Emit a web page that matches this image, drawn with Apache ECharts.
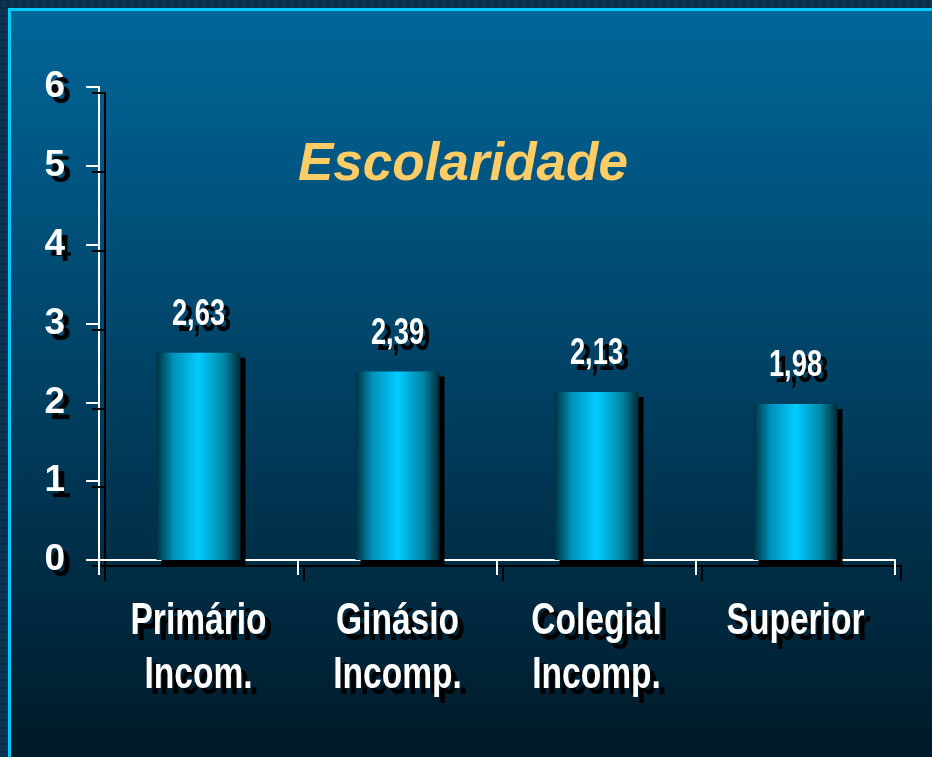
<!DOCTYPE html>
<html>
<head>
<meta charset="utf-8">
<script src="https://cdn.jsdelivr.net/npm/echarts@6/dist/echarts.min.js"></script>
<style>
html, body { margin: 0; padding: 0; background: #0c3452; }
#chart { width: 932px; height: 757px; }
</style>
</head>
<body>
<div id="chart"></div>
<script>
// dados
const categorias = ['Primário\nIncom.', 'Ginásio\nIncomp.', 'Colegial\nIncomp.', 'Superior'];
const valores = [2.63, 2.39, 2.13, 1.98];
const titulo = 'Escolaridade';

let chart = echarts.init(document.getElementById('chart'));

const fonte = '"Liberation Sans", Arial, sans-serif';
const linhaSombra = {
    color: '#fff',
    width: 2,
    shadowColor: '#000',
    shadowOffsetX: 6,
    shadowOffsetY: 6,
    shadowBlur: 0
};

// texto "narrow" com sombra preta: cópia preta deslocada + texto branco comprimido
function textoSombra(txt, x, y, size) {
    let els = [];
    [['#000', 6], ['#fff', 0]].forEach(function (c) {
        els.push({
            type: 'text',
            x: x + c[1],
            y: y + c[1],
            scaleX: 0.78,
            scaleY: 1.05,
            style: {
                x: 0, y: 0,
                text: txt,
                fill: c[0],
                font: 'bold ' + size + 'px ' + fonte,
                align: 'center',
                verticalAlign: 'middle'
            }
        });
    });
    return els;
}

// moldura com padrão no topo e na esquerda
let moldura = [];
for (let x = 0; x < 932; x += 8) {
    moldura.push({ type: 'line', shape: { x1: x, y1: 0, x2: x, y2: 8 }, style: { stroke: '#06203a', lineWidth: 1 }, z: -9 });
}
for (let y = 0; y < 757; y += 8) {
    moldura.push({ type: 'line', shape: { x1: 0, y1: y, x2: 8, y2: y }, style: { stroke: '#06203a', lineWidth: 1 }, z: -9 });
}
moldura.push({
    type: 'rect',
    shape: { x: 9.5, y: 9.5, width: 940, height: 760 },
    style: {
        fill: new echarts.graphic.LinearGradient(0, 0, 0, 1, [
            { offset: 0, color: '#006699' },
            { offset: 0.45, color: '#004468' },
            { offset: 1, color: '#001826' }
        ]),
        stroke: '#00ccff',
        lineWidth: 3
    },
    z: -10
});

let option = {
    backgroundColor: '#0c3452',
    animation: false,
    graphic: moldura,
    title: {
        text: titulo,
        left: 293,
        top: 134,
        textStyle: {
            color: '#ffcc66',
            fontFamily: fonte,
            fontStyle: 'italic',
            fontWeight: 'bold',
            fontSize: 53
        }
    },
    grid: {
        left: 99,
        right: 37,
        top: 87,
        bottom: 197
    },
    xAxis: {
        type: 'category',
        data: categorias,
        axisLine: { lineStyle: linhaSombra },
        axisTick: { show: true, length: 15, lineStyle: linhaSombra },
        axisLabel: { show: false },
        splitLine: { show: false }
    },
    yAxis: {
        type: 'value',
        min: 0,
        max: 6,
        interval: 1,
        axisLine: { show: true, lineStyle: linhaSombra },
        axisTick: { show: true, length: 13, lineStyle: linhaSombra },
        axisLabel: {
            color: '#fff',
            fontFamily: fonte,
            fontWeight: 'bold',
            fontSize: 37,
            margin: 34,
            textShadowColor: '#000',
            textShadowOffsetX: 6,
            textShadowOffsetY: 6,
            textShadowBlur: 1
        },
        splitLine: { show: false }
    },
    series: [
        {
            type: 'bar',
            data: valores,
            barWidth: 84,
            itemStyle: {
                color: new echarts.graphic.LinearGradient(0, 0, 1, 0, [
                    { offset: 0, color: '#003040' },
                    { offset: 0.2, color: '#0090b8' },
                    { offset: 0.5, color: '#00ccff' },
                    { offset: 0.8, color: '#0088a8' },
                    { offset: 1, color: '#002a36' }
                ]),
                shadowColor: '#000',
                shadowOffsetX: 5,
                shadowOffsetY: 5,
                shadowBlur: 0
            }
        },
        {
            // rótulos dos valores e das categorias
            type: 'custom',
            clip: false,
            data: valores.map(function (v, i) { return [i, v]; }),
            renderItem: function (params, api) {
                let i = api.value(0);
                let topo = api.coord([i, api.value(1)]);
                let base = api.coord([i, 0]);
                let els = textoSombra(api.value(1).toFixed(2).replace('.', ','), topo[0], topo[1] - 38, 35);
                categorias[i].split('\n').forEach(function (linha, k) {
                    els = els.concat(textoSombra(linha, base[0], base[1] + 62 + k * 54, 43));
                });
                return { type: 'group', children: els };
            }
        }
    ]
};

chart.setOption(option);
</script>
</body>
</html>
